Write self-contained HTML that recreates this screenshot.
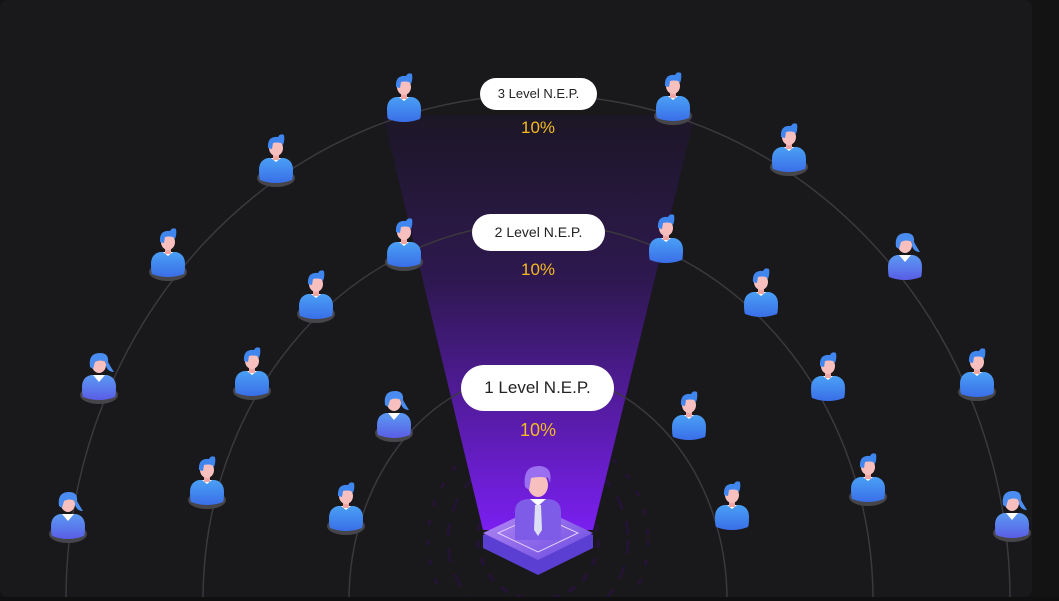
<!DOCTYPE html>
<html><head><meta charset="utf-8"><style>
html,body{margin:0;padding:0;width:1059px;height:601px;overflow:hidden;background:#131314;}
svg{display:block}
.lbl{position:absolute;background:#fff;color:#222;border-radius:20px;text-align:center;font-family:"Liberation Sans",sans-serif;}
.pct{position:absolute;color:#f5b921;font-family:"Liberation Sans",sans-serif;text-align:center;width:100px;}
</style></head><body>
<svg width="1059" height="601" style="position:absolute;left:0;top:0">
<defs>
<linearGradient id="beam" x1="0" y1="0" x2="0" y2="1">
<stop offset="0" stop-color="#1c1726"/><stop offset="0.4" stop-color="#2e1850"/><stop offset="1" stop-color="#7a1ff0"/></linearGradient>
<linearGradient id="body" x1="0" y1="0" x2="0" y2="1"><stop offset="0" stop-color="#4aa0f5"/><stop offset="1" stop-color="#3a6ee8"/></linearGradient>
<linearGradient id="bodyf" x1="0" y1="0" x2="0" y2="1"><stop offset="0" stop-color="#5a9af2"/><stop offset="1" stop-color="#5a5de6"/></linearGradient>
<linearGradient id="plat" x1="0" y1="0" x2="1" y2="1"><stop offset="0" stop-color="#b88cf5"/><stop offset="1" stop-color="#6a4ae0"/></linearGradient>
<symbol id="m" overflow="visible">
<path d="M-16,4 Q-17,2 -17,-6 Q-17,-16 -8,-18 L8,-18 Q17,-16 17,-6 Q17,2 16,4 Q8,7 0,7 Q-8,7 -16,4 Z" fill="url(#body)"/>
<path d="M-5,-18 L0,-14 L5,-18 Z" fill="#fff"/>
<rect x="-3" y="-22" width="6" height="6" fill="#f0a6a6"/>
<ellipse cx="0" cy="-28" rx="7" ry="8" fill="#f7c0bf"/>
<path d="M-8,-28 Q-9,-40 2,-39 Q4,-43 8,-41 Q9,-36 7,-31 L5,-33 Q1,-34 -3,-33 L-4,-27 Z" fill="#3f86ee"/>
</symbol>
<symbol id="f" overflow="visible">
<path d="M-16,4 Q-17,2 -17,-6 Q-17,-16 -8,-18 L8,-18 Q17,-16 17,-6 Q17,2 16,4 Q8,7 0,7 Q-8,7 -16,4 Z" fill="url(#bodyf)"/>
<path d="M-6,-18 L0,-11 L6,-18 Z" fill="#fff"/>
<ellipse cx="0" cy="-28" rx="7" ry="8" fill="#f7c0bf"/>
<path d="M-9,-26 Q-11,-40 1,-40 Q10,-40 9,-31 Q13,-24 15,-21 Q9,-21 7,-27 L7,-31 Q1,-34 -4,-31 L-6,-24 Z" fill="#4a8cf0"/>
</symbol>
<symbol id="p" overflow="visible"><ellipse cx="0" cy="0" rx="19" ry="9" fill="#46464a"/><ellipse cx="0" cy="-1" rx="15" ry="6" fill="#2a2a2d"/></symbol>
</defs>
<rect x="0" y="0" width="1032" height="597" rx="8" fill="#19181b"/>
<g fill="none" stroke="#2a1245" opacity="0.6">
<circle cx="538" cy="540" r="60" stroke-dasharray="8 10" stroke-width="4"/>
<circle cx="538" cy="540" r="90" stroke-dasharray="14 12" stroke-width="3"/>
<circle cx="538" cy="540" r="110" stroke-dasharray="6 14" stroke-width="3"/>
</g>
<path d="M383,115 L695,115 L593,530 L483,530 Z" fill="url(#beam)"/>
<g fill="none" stroke="#3a393d" stroke-width="1.5">
<ellipse cx="538" cy="600" rx="472" ry="505"/>
<ellipse cx="538" cy="600" rx="335" ry="377"/>
<ellipse cx="538" cy="600" rx="189" ry="228"/>
</g>
<!-- central platform -->
<path d="M538,510 L593,535 L593,548 L538,575 L483,548 L483,535 Z" fill="#5b3fd2"/>
<path d="M538,507 L593,533 L538,560 L483,533 Z" fill="url(#plat)"/>
<path d="M538,515 L578,533 L538,552 L498,533 Z" fill="none" stroke="#e2d0ff" stroke-width="1"/>
<path d="M515,540 L515,512 Q515,500 528,499 L548,499 Q561,500 561,512 L561,540 Z" fill="#7f5ce8"/>
<path d="M530,499 L538,506 L546,499 Z" fill="#fff"/>
<path d="M535,505 L541,505 L542,530 L538,536 L534,530 Z" fill="#dde0f5"/>
<ellipse cx="538" cy="485" rx="10" ry="12" fill="#f7c0bf"/>
<path d="M525,487 Q522,465 540,466 Q553,467 550,483 L548,478 Q540,476 531,478 L529,490 Z" fill="#9a6ff0"/>
<!-- outer -->
<use href="#m" x="404" y="115"/>
<use href="#p" x="276" y="178"/><use href="#m" x="276" y="176"/>
<use href="#p" x="168" y="272"/><use href="#m" x="168" y="270"/>
<use href="#p" x="99" y="395"/><use href="#f" x="99" y="393"/>
<use href="#p" x="68" y="534"/><use href="#f" x="68" y="532"/>
<use href="#p" x="673" y="116"/><use href="#m" x="673" y="114"/>
<use href="#p" x="789" y="167"/><use href="#m" x="789" y="165"/>
<use href="#f" x="905" y="273"/>
<use href="#p" x="977" y="392"/><use href="#m" x="977" y="390"/>
<use href="#p" x="1012" y="533"/><use href="#f" x="1012" y="531"/>
<!-- middle -->
<use href="#p" x="404" y="262"/><use href="#m" x="404" y="260"/>
<use href="#p" x="316" y="314"/><use href="#m" x="316" y="312"/>
<use href="#p" x="252" y="391"/><use href="#m" x="252" y="389"/>
<use href="#p" x="207" y="500"/><use href="#m" x="207" y="498"/>
<use href="#m" x="666" y="256"/>
<use href="#m" x="761" y="310"/>
<use href="#m" x="828" y="394"/>
<use href="#p" x="868" y="497"/><use href="#m" x="868" y="495"/>
<!-- inner -->
<use href="#p" x="394" y="433"/><use href="#f" x="394" y="431"/>
<use href="#p" x="346" y="526"/><use href="#m" x="346" y="524"/>
<use href="#m" x="689" y="433"/>
<use href="#m" x="732" y="523"/>
<rect x="0" y="597" width="1059" height="4" fill="#101011"/>
</svg>
<div class="lbl" style="left:480px;top:78px;width:117px;height:32px;line-height:32px;font-size:13px">3 Level N.E.P.</div>
<div class="pct" style="left:488px;top:118px;font-size:17px">10%</div>
<div class="lbl" style="left:472px;top:214px;width:133px;height:37px;line-height:37px;font-size:14px">2 Level N.E.P.</div>
<div class="pct" style="left:488px;top:260px;font-size:17px">10%</div>
<div class="lbl" style="left:461px;top:365px;width:153px;height:46px;line-height:46px;font-size:17px;border-radius:24px">1 Level N.E.P.</div>
<div class="pct" style="left:488px;top:420px;font-size:18px">10%</div>
</body></html>
